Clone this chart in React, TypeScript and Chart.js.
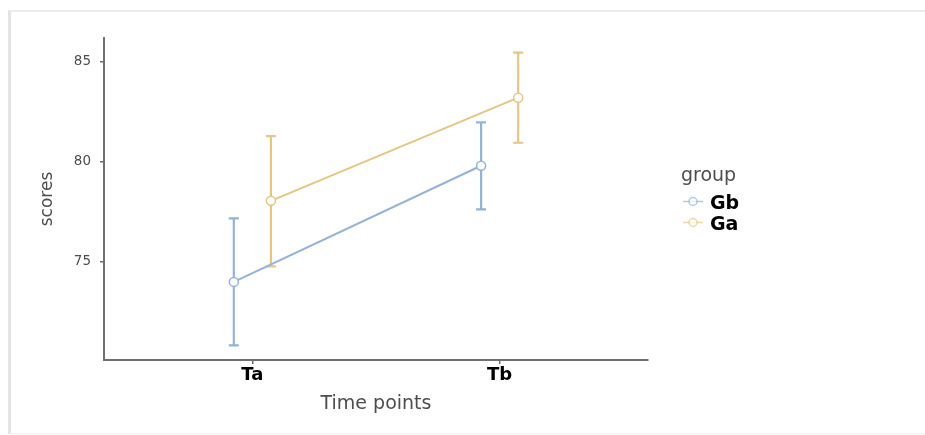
import React, { useEffect, useRef } from "react";
import { Chart, registerables } from "chart.js";

Chart.register(...registerables);

const categories = ["Ta", "Tb"];
const groups = ["Gb", "Ga"];
const gbMean = [74.0, 79.8];
const gbLower = [70.83, 77.62];
const gbUpper = [77.17, 81.97];
const gaMean = [78.05, 83.2];
const gaLower = [74.78, 80.95];
const gaUpper = [81.28, 85.45];
const yTicks = [75, 80, 85];

const GB_COLOR = "#93b3d8";
const GA_COLOR = "#e5c783";
const DODGE = 0.075;
const FONT = "'DejaVu Sans', sans-serif";

const series = [
  { name: groups[0], mean: gbMean, lower: gbLower, upper: gbUpper, color: GB_COLOR, dodge: -DODGE },
  { name: groups[1], mean: gaMean, lower: gaLower, upper: gaUpper, color: GA_COLOR, dodge: DODGE },
];

const errorBarPlugin = {
  id: "errorBars",
  beforeDatasetsDraw(chart: any) {
    const { ctx, scales } = chart;
    const xs = scales.x;
    const ys = scales.y;
    ctx.save();
    series.forEach((s) => {
      ctx.strokeStyle = s.color;
      ctx.lineWidth = 2.2;
      s.mean.forEach((_, i) => {
        const x = xs.getPixelForValue(i + s.dodge);
        const yl = ys.getPixelForValue(s.lower[i]);
        const yu = ys.getPixelForValue(s.upper[i]);
        ctx.beginPath();
        ctx.moveTo(x, yl);
        ctx.lineTo(x, yu);
        ctx.moveTo(x - 5, yl);
        ctx.lineTo(x + 5, yl);
        ctx.moveTo(x - 5, yu);
        ctx.lineTo(x + 5, yu);
        ctx.stroke();
      });
    });
    ctx.restore();
  },
  afterDraw(chart: any) {
    const { ctx } = chart;
    ctx.save();
    ctx.fillStyle = "#4d4d4d";
    ctx.font = `19px ${FONT}`;
    ctx.textBaseline = "alphabetic";
    ctx.textAlign = "left";
    ctx.fillText("group", 681, 181);
    series.forEach((s, i) => {
      const cy = 201.5 + i * 21;
      ctx.strokeStyle = s.color;
      ctx.globalAlpha = 0.7;
      ctx.lineWidth = 1.5;
      ctx.beginPath();
      ctx.moveTo(683, cy);
      ctx.lineTo(703, cy);
      ctx.stroke();
      ctx.beginPath();
      ctx.arc(693, cy, 4, 0, Math.PI * 2);
      ctx.fillStyle = "#ffffff";
      ctx.fill();
      ctx.stroke();
      ctx.globalAlpha = 1;
      ctx.fillStyle = "#000000";
      ctx.font = `bold 19px ${FONT}`;
      ctx.fillText(s.name, 710, cy + 7);
    });
    ctx.restore();
  },
};

export default function App() {
  const ref = useRef<HTMLCanvasElement | null>(null);

  useEffect(() => {
    if (!ref.current) return;
    const chart = new Chart(ref.current, {
      type: "line",
      data: {
        datasets: series.map((s) => ({
          label: s.name,
          data: s.mean.map((v, i) => ({ x: i + s.dodge, y: v })),
          borderColor: s.color,
          backgroundColor: "#ffffff",
          borderWidth: 2,
          pointRadius: 4.5,
          pointBorderWidth: 1.5,
          pointBackgroundColor: "#ffffff",
          pointBorderColor: s.color,
          tension: 0,
        })),
      },
      options: {
        responsive: false,
        animation: false,
        events: [],
        layout: { padding: { top: 38, right: 277, left: 0, bottom: 0 } },
        plugins: { legend: { display: false }, tooltip: { enabled: false } },
        scales: {
          x: {
            type: "linear",
            min: -0.6,
            max: 1.6,
            afterBuildTicks: (scale: any) => {
              scale.ticks = categories.map((_, i) => ({ value: i }));
            },
            afterFit: (scale: any) => {
              scale.height = 75;
            },
            ticks: {
              callback: (v: any) => categories[Math.round(Number(v))] ?? "",
              color: "#000000",
              font: { family: FONT, size: 18, weight: "bold" },
              padding: 1,
              maxRotation: 0,
              autoSkip: false,
            },
            grid: { drawOnChartArea: false, drawTicks: true, tickLength: 4, color: "#707070", lineWidth: 1.5 },
            border: { display: true, color: "#707070", width: 2 },
            title: {
              display: true,
              text: "Time points",
              color: "#4d4d4d",
              font: { family: FONT, size: 19 },
              padding: { top: 0, bottom: 20 },
            },
          },
          y: {
            type: "linear",
            min: 70.1,
            max: 86.18,
            afterBuildTicks: (scale: any) => {
              scale.ticks = yTicks.map((v) => ({ value: v }));
            },
            afterFit: (scale: any) => {
              scale.width = 104;
            },
            ticks: {
              color: "#4d4d4d",
              font: { family: FONT, size: 13.5 },
              padding: 9,
            },
            grid: { drawOnChartArea: false, drawTicks: true, tickLength: 4, color: "#707070", lineWidth: 1.5 },
            border: { display: true, color: "#707070", width: 2 },
            title: {
              display: true,
              text: "scores",
              color: "#4d4d4d",
              font: { family: FONT, size: 17 },
              padding: { top: 37, bottom: 0 },
            },
          },
        },
      },
      plugins: [errorBarPlugin],
    } as any);
    return () => chart.destroy();
  }, []);

  return (
    <div style={{ position: "fixed", left: 0, top: 0, width: 925, height: 435, background: "#ffffff", overflow: "hidden" }}>
      <div
        style={{
          position: "absolute",
          left: 8,
          top: 10,
          right: -5,
          bottom: 1,
          borderLeft: "3px solid #e4e4e4",
          borderTop: "2px solid #ececec",
          borderBottom: "1px solid #f0f0f0",
        }}
      />
      <canvas ref={ref} width={925} height={435} style={{ position: "absolute", left: 0, top: 0 }} />
    </div>
  );
}
